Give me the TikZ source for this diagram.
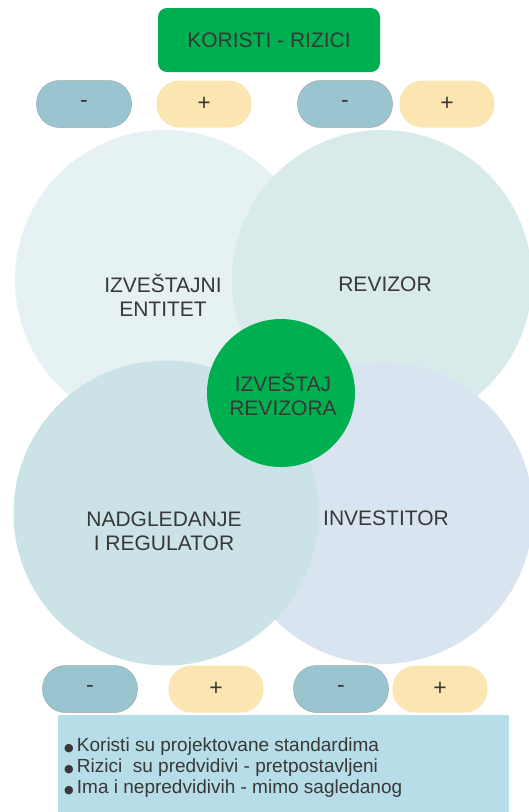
\documentclass[tikz,border=0pt]{standalone}
\usepackage{fontspec}
\setmainfont{Liberation Sans}
\newfontfamily\simboli{DejaVu Sans}
\usepackage{xcolor}
\usetikzlibrary{positioning,calc}

\definecolor{zelena}{HTML}{00B050}
\definecolor{tekst}{HTML}{383838}
\definecolor{krugA}{HTML}{E5F1F3}
\definecolor{krugB}{HTML}{D9EAEA}
\definecolor{krugC}{HTML}{D8E4EF}
\definecolor{krugD}{HTML}{CBE2E6}
\definecolor{minusboja}{HTML}{98C5D0}
\definecolor{plusboja}{HTML}{FBE6B2}
\definecolor{okvir}{HTML}{B7DDE8}

\newcommand{\tacka}{{\simboli\fontsize{11}{11}\selectfont ●}\,}

\begin{document}
\begin{tikzpicture}[
    x=1pt, y=-1pt,
    every node/.style={text=tekst},
    krug/.style={circle, minimum size=302pt, inner sep=0pt, font=\fontsize{21}{24}\selectfont, align=center},
    minus/.style={draw=gray!70, line width=0.5pt, fill=minusboja, rounded corners=23pt, minimum width=95pt, minimum height=47pt, font=\fontsize{23}{24}\selectfont},
    plus/.style={fill=plusboja, rounded corners=23pt, minimum width=95pt, minimum height=47pt, font=\fontsize{23}{24}\selectfont}
]
    \useasboundingbox (0,0) rectangle (529,812);

    % Naslov
    \node[fill=zelena, rounded corners=9pt, minimum width=222pt, minimum height=64pt, font=\fontsize{21}{24}\selectfont] (naslov) at (269,40) {KORISTI - RIZICI};

    % Gornji plus/minus
    \node[minus] (m1) at (84,104) {-};
    \node[plus] (p1) at (204,104) {+};
    \node[minus] (m2) at (345,104) {-};
    \node[plus] (p2) at (447,104) {+};

    % Krugovi
    \node[krug, fill=krugA, minimum size=300pt] (entitet) at (165,280) {};
    \node[krug, fill=krugB, minimum size=300pt] (revizor) at (382,280) {};
    \node[krug, fill=krugC] (investitor) at (382,513) {};
    \node[krug, fill=krugD, minimum size=305pt] (nadzor) at (166,513) {};
    \node[krug, fill=zelena, minimum size=148pt] (izvestaj) at (281,393) {};

    % Tekstovi u krugovima
    \node[krug, minimum size=0pt] at (163,295) {IZVEŠTAJNI\\ENTITET};
    \node[krug, minimum size=0pt] at (385,284) {REVIZOR};
    \node[krug, minimum size=0pt] at (283,394) {IZVEŠTAJ\\REVIZORA};
    \node[krug, minimum size=0pt] at (164,531) {NADGLEDANJE\\I REGULATOR};
    \node[krug, minimum size=0pt] at (386,518) {INVESTITOR};

    % Donji plus/minus
    \node[minus] (m3) at (90,689) {-};
    \node[plus] (p3) at (216,689) {+};
    \node[minus] (m4) at (341,689) {-};
    \node[plus] (p4) at (440,689) {+};

    % Napomene
    \node[fill=okvir, minimum width=451pt, minimum height=100pt, anchor=north west] (okvir) at (58,715) {};
    \node[anchor=west, align=left, inner sep=0pt, font=\fontsize{19}{21}\selectfont] (napomene) at (64,768) {\tacka Koristi su projektovane standardima\\\tacka Rizici\ \ su predvidivi - pretpostavljeni\\\tacka Ima i nepredvidivih - mimo sagledanog};
\end{tikzpicture}
\end{document}
